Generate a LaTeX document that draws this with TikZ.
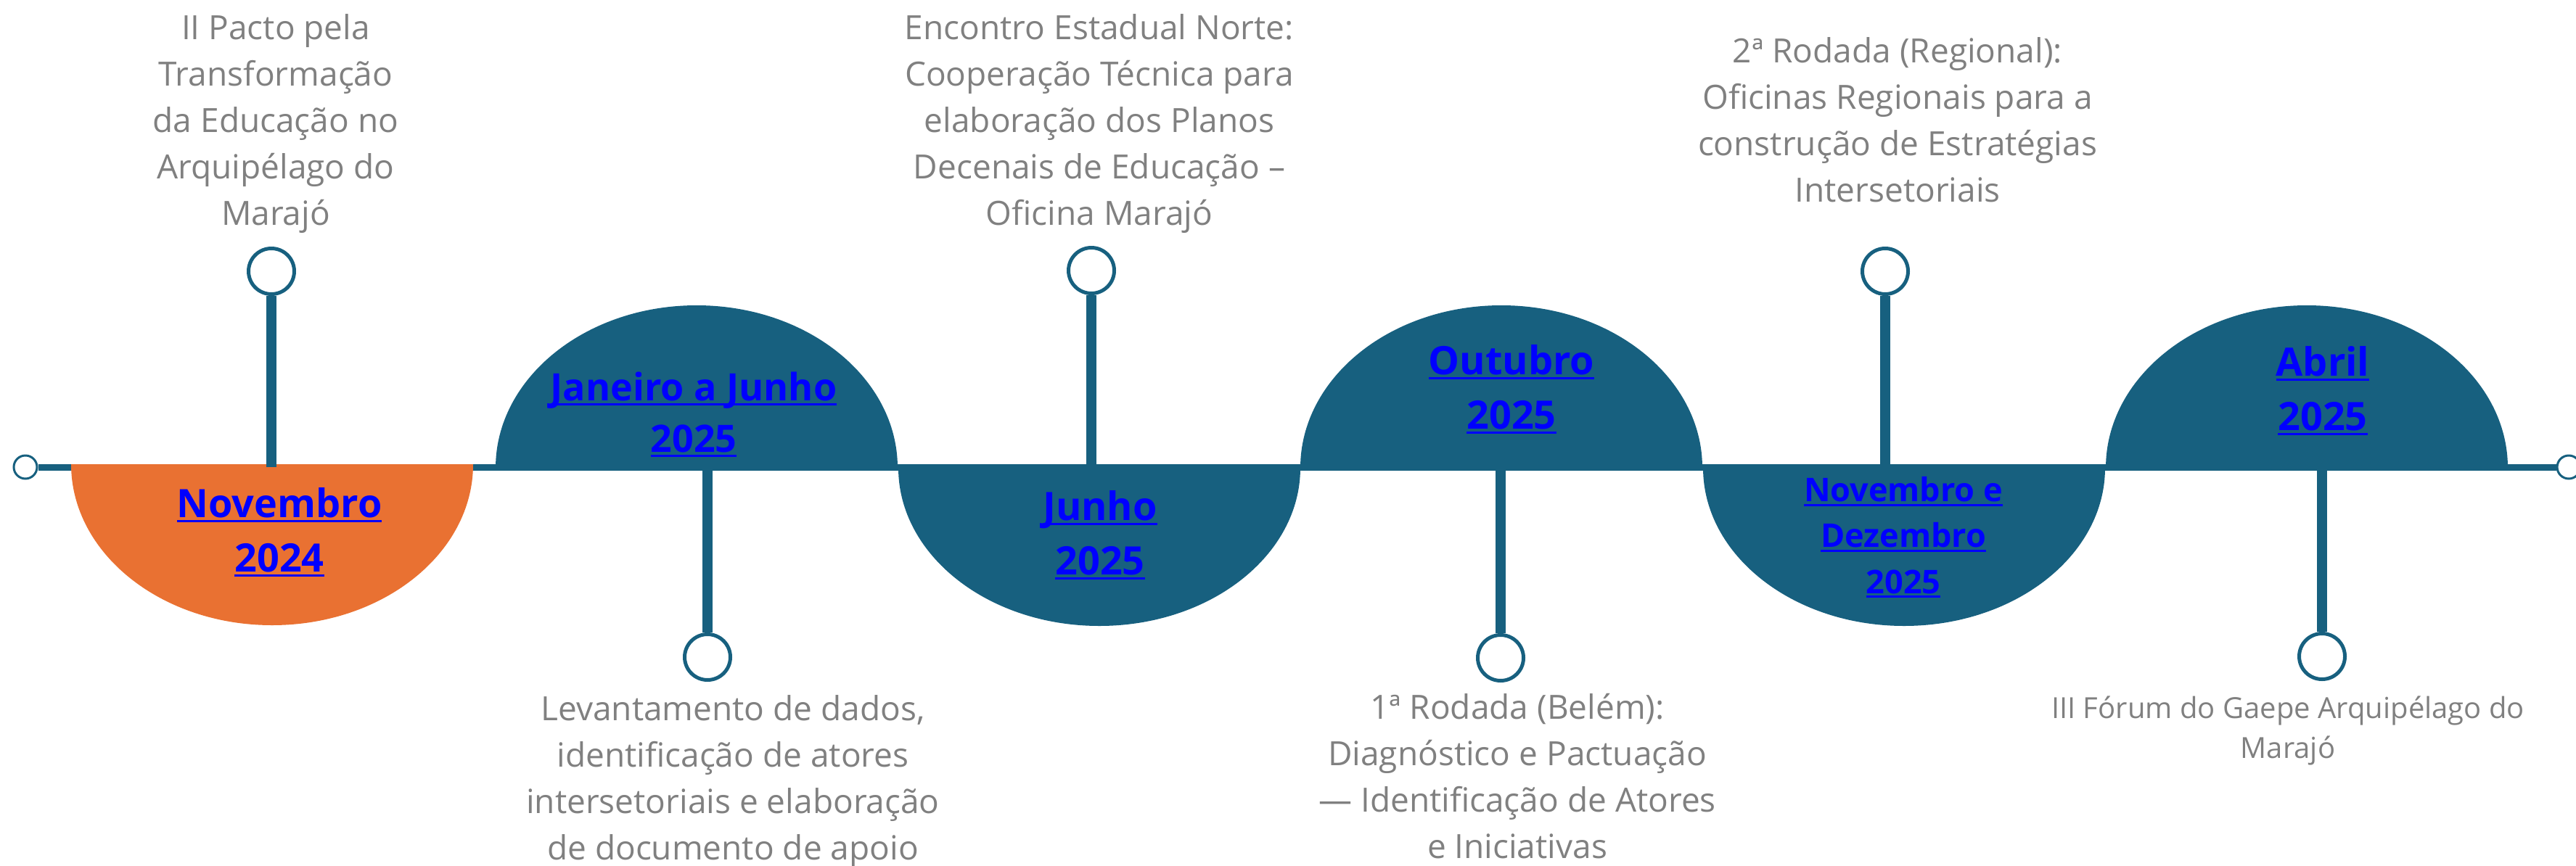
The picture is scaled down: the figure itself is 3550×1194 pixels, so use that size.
\documentclass[tikz,border=0pt]{standalone}
\usepackage{fontspec}
\setmainfont{Open Sans}
\usetikzlibrary{positioning}
\definecolor{tlteal}{HTML}{17607F}
\definecolor{tlorange}{HTML}{E97132}
\definecolor{tlgray}{HTML}{808080}
\newsavebox\lnkbox
\newcommand\lnk[1]{\sbox\lnkbox{#1}\rlap{\usebox\lnkbox}\rule[-0.13em]{\wd\lnkbox}{0.06em}}

\begin{document}
\begin{tikzpicture}[x=0.1mm,y=-0.1mm,
  dot/.style={circle,draw=tlteal,fill=white,line width=0.5mm,minimum size=6.3mm,inner sep=0pt},
  tip/.style={circle,draw=tlteal,fill=white,line width=0.3mm,minimum size=3.2mm,inner sep=0pt},
  stem/.style={draw=tlteal,line width=1.4mm},
  axis/.style={draw=tlteal,line width=0.9mm},
  note/.style={text=tlgray,align=center,anchor=base,inner sep=0pt,font=\fontsize{13.09}{18.21}\selectfont},
  date/.style={text=blue,align=center,anchor=base,inner sep=0pt,font=\bfseries\fontsize{15.36}{21.34}\selectfont}]
  \useasboundingbox (0,0) rectangle (3550,1194);

  \node[tip] (start) at (35,644) {};
  \node[tip] (end)   at (3540,644) {};
  \draw[axis] (start) -- (end);

  \fill[tlorange] (98,640)   arc[start angle=180,end angle=0,x radius=277,y radius=222] -- cycle;
  \fill[tlteal]   (683,645)  arc[start angle=180,end angle=360,x radius=277,y radius=224] -- cycle;
  \fill[tlteal]   (1238,645) arc[start angle=180,end angle=0,x radius=277,y radius=218] -- cycle;
  \fill[tlteal]   (1792,645) arc[start angle=180,end angle=360,x radius=277,y radius=224] -- cycle;
  \fill[tlteal]   (2347,645) arc[start angle=180,end angle=0,x radius=277,y radius=218] -- cycle;
  \fill[tlteal]   (2902,645) arc[start angle=180,end angle=360,x radius=277,y radius=224] -- cycle;

  \coordinate (p1) at (374,644);
  \coordinate (p2) at (975,644);
  \coordinate (p3) at (1504,644);
  \coordinate (p4) at (2068,644);
  \coordinate (p5) at (2598,644);
  \coordinate (p6) at (3200,644);
  \node[dot] (d1) at (374,374)  {};
  \node[dot] (d2) at (975,906)  {};
  \node[dot] (d3) at (1504,373) {};
  \node[dot] (d4) at (2068,907) {};
  \node[dot] (d5) at (2598,374) {};
  \node[dot] (d6) at (3200,905) {};
  \draw[stem] (p1) -- (d1);
  \draw[stem] (p2) -- (d2);
  \draw[stem] (p3) -- (d3);
  \draw[stem] (p4) -- (d4);
  \draw[stem] (p5) -- (d5);
  \draw[stem] (p6) -- (d6);

  \node[date] (nov24) at (385,788)  {\lnk{Novembro}\\\lnk{2024}};
  \node[date,font=\bfseries\fontsize{14.8}{20.2}\selectfont] (janjun) at (956,623) {\lnk{Janeiro a Junho}\\\lnk{2025}};
  \node[date] (jun25) at (1516,792) {\lnk{Junho}\\\lnk{2025}};
  \node[date] (out25) at (2083,591) {\lnk{Outubro}\\\lnk{2025}};
  \node[date,font=\bfseries\fontsize{12.8}{17.93}\selectfont] (novdez) at (2623,818) {\lnk{Novembro e}\\\lnk{Dezembro}\\\lnk{2025}};
  \node[date] (abr25) at (3201,593) {\lnk{Abril}\\\lnk{2025}};

  \node[note] (pacto)    at (380,310)   {II Pacto pela\\Transformação\\da Educação no\\Arquipélago do\\Marajó};
  \node[note] (levant)   at (1010,1185) {Levantamento de dados,\\identificação de atores\\intersetoriais e elaboração\\de documento de apoio};
  \node[note] (encontro) at (1515,310)  {Encontro Estadual Norte:\\Cooperação Técnica para\\elaboração dos Planos\\Decenais de Educação –\\Oficina Marajó};
  \node[note] (rodada1)  at (2091,1183) {1ª Rodada (Belém):\\Diagnóstico e Pactuação\\— Identificação de Atores\\e Iniciativas};
  \node[note] (rodada2)  at (2615,278)  {2ª Rodada (Regional):\\Oficinas Regionais para a\\construção de Estratégias\\Intersetoriais};
  \node[note,font=\fontsize{11.38}{15.65}\selectfont] (forum) at (3153,1045) {III Fórum do Gaepe Arquipélago do\\Marajó};
\end{tikzpicture}
\end{document}
